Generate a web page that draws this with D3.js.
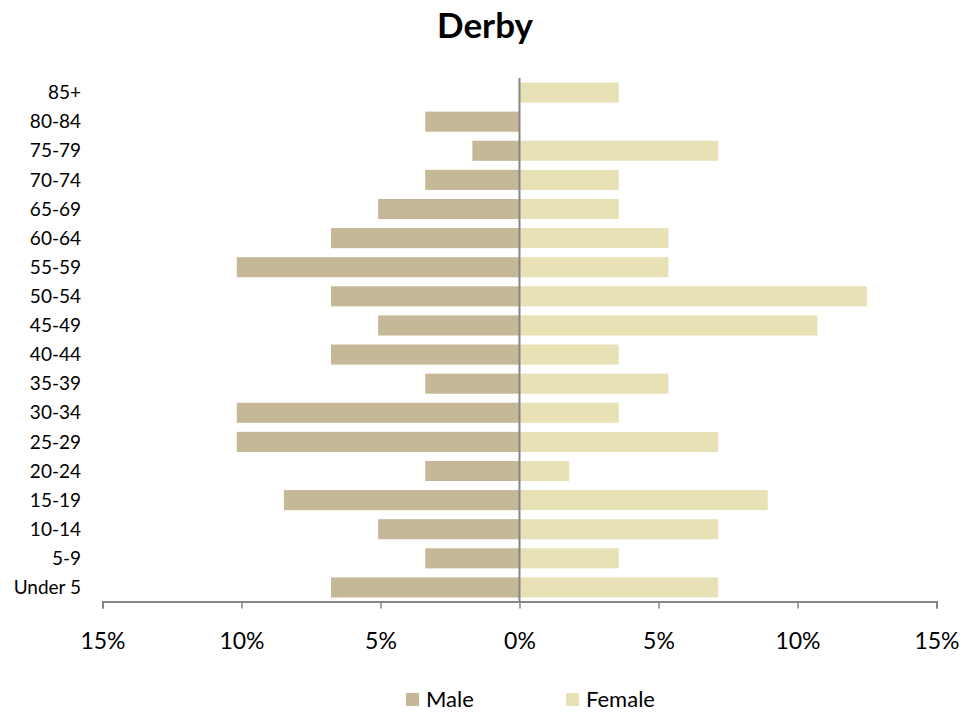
<!DOCTYPE html>
<html><head><meta charset="utf-8">
<script src="https://cdn.jsdelivr.net/npm/d3@7"></script>
<style>body{margin:0;background:#fff}svg{display:block}text{font-family:Lato,"Open Sans",sans-serif}</style>
</head><body>
<svg id="c" width="979" height="713"></svg>
<script>
const ageGroups = ["85+","80-84","75-79","70-74","65-69","60-64","55-59","50-54","45-49","40-44","35-39","30-34","25-29","20-24","15-19","10-14","5-9","Under 5"];
const maleCounts = [0,2,1,2,3,4,6,4,3,4,2,6,6,2,5,3,2,4];
const femaleCounts = [2,0,4,2,2,3,3,7,6,2,3,2,4,1,5,4,2,4];
const maleTotal = d3.sum(maleCounts), femaleTotal = d3.sum(femaleCounts);
const male = maleCounts.map(v => v / maleTotal * 100);
const female = femaleCounts.map(v => v / femaleTotal * 100);
const tickValues = [-15,-10,-5,0,5,10,15];
const seriesNames = ["Male","Female"];
const colors = {Male:"#c4b896", Female:"#e8e1b6"};

const svg = d3.select("#c");
const x = d3.scaleLinear().domain([-15,15]).range([102.5,936.5]);
const y = d3.scaleBand().domain(ageGroups).range([78,602]).paddingInner(0.31).paddingOuter(0.155);

svg.append("text").attr("x",485).attr("y",38).attr("text-anchor","middle")
  .attr("font-size",35).attr("font-weight","bold").text("Derby");

svg.append("g").selectAll("rect").data(ageGroups).join("rect")
  .attr("x",(d,i)=>x(-male[i])).attr("width",(d,i)=>x(0)-x(-male[i]))
  .attr("y",d=>y(d)).attr("height",y.bandwidth()).attr("fill",colors.Male);
svg.append("g").selectAll("rect").data(ageGroups).join("rect")
  .attr("x",x(0)).attr("width",(d,i)=>x(female[i])-x(0))
  .attr("y",d=>y(d)).attr("height",y.bandwidth()).attr("fill",colors.Female);

// category labels
svg.append("g").selectAll("text").data(ageGroups).join("text")
  .attr("x",81).attr("y",d=>y(d)+y.bandwidth()/2).attr("dy","0.35em")
  .attr("text-anchor","end").attr("font-size",19).attr("fill","#000").text(d=>d);

// x axis
const xa = svg.append("g").attr("transform","translate(0,601.5)")
  .call(d3.axisBottom(x).tickValues(tickValues).tickSize(7).tickFormat(d=>Math.abs(d)+"%"));
xa.select(".domain").attr("stroke","#868686").attr("stroke-width",2);
xa.selectAll(".tick line").attr("stroke","#868686").attr("stroke-width",1.5);
xa.selectAll(".tick text").attr("font-size",23).attr("fill","#000").attr("y",47).attr("dy",0)
  .attr("font-family","Lato,'Open Sans',sans-serif");

// zero line
svg.append("line").attr("x1",x(0)).attr("x2",x(0)).attr("y1",78).attr("y2",602)
  .attr("stroke","#868686").attr("stroke-width",2);

// legend
const lg = svg.append("g");
const lx = [406,566];
seriesNames.forEach((s,i)=>{
  lg.append("rect").attr("x",lx[i]).attr("y",693).attr("width",13).attr("height",13).attr("fill",colors[s]);
  lg.append("text").attr("x",lx[i]+20).attr("y",707).attr("font-size",22).attr("fill","#000").text(s);
});
</script>
</body></html>
